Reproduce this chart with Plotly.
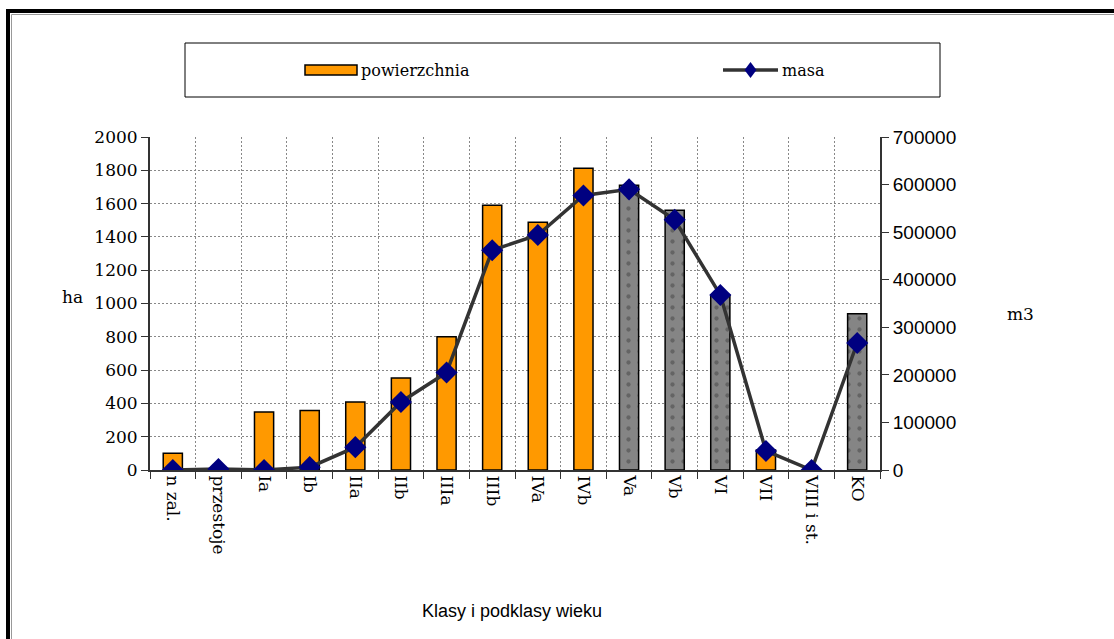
import plotly.graph_objects as go

categories = ["n zal.", "przestoje", "Ia", "Ib", "IIa", "IIb", "IIIa", "IIIb",
              "IVa", "IVb", "Va", "Vb", "VI", "VII", "VIII i st.", "KO"]
powierzchnia = [100, 0, 348, 358, 408, 553, 800, 1590, 1488, 1812,
                1710, 1560, 1050, 120, 0, 938]
masa = [0, 2000, 0, 6000, 48000, 143000, 205000, 462000, 494000, 577000,
        590000, 526000, 368000, 40000, 0, 267000]
dotted = ["Va", "Vb", "VI", "KO"]

W, H = 1114, 639
L, R, T, B = 150, 880, 137, 470


def px(x):
    return (x - L) / (R - L)


def py(y):
    return (B - y) / (B - T)


bar_colors = ["#858585" if c in dotted else "#FF9900" for c in categories]
bar_shapes = ["." if c in dotted else "" for c in categories]

fig = go.Figure()
fig.add_trace(go.Bar(
    x=categories, y=powierzchnia, name="powierzchnia", width=0.42,
    marker=dict(color=bar_colors, line=dict(color="black", width=1.5),
                pattern=dict(shape=bar_shapes, fgcolor="#f0f0f0", size=11, solidity=0.12)),
    yaxis="y", showlegend=False,
))
fig.add_trace(go.Scatter(
    x=categories, y=masa, name="masa", mode="lines+markers",
    line=dict(color="#333333", width=3.5),
    marker=dict(symbol="diamond", size=17, color="#000080"),
    yaxis="y2", showlegend=False,
))

serif = "DejaVu Serif"
sans = "Liberation Sans"

fig.update_layout(
    width=W, height=H,
    margin=dict(l=L, r=W - R, t=T, b=H - B),
    paper_bgcolor="white", plot_bgcolor="white",
    xaxis=dict(type="category", range=[-0.5, len(categories) - 0.5],
               tickson="boundaries", ticks="outside", ticklen=7, tickcolor="#333",
               showgrid=True, gridcolor="#888", griddash="2px,2px", gridwidth=1,
               showline=True, linecolor="#333", linewidth=2,
               tickangle=90, tickfont=dict(family=serif, size=17, color="black")),
    yaxis=dict(range=[0, 2000], dtick=200, ticks="outside", ticklen=7, tickcolor="#333",
               showgrid=True, gridcolor="#888", griddash="2px,2px", gridwidth=1,
               zeroline=False, showline=True, linecolor="#333", linewidth=2,
               tickfont=dict(family=serif, size=17, color="black")),
    yaxis2=dict(range=[0, 700000], dtick=100000, overlaying="y", side="right",
                ticks="outside", ticklen=7, tickcolor="#333", showgrid=False,
                zeroline=False, showline=True, linecolor="#333", linewidth=2,
                tickformat="d",
                tickfont=dict(family=sans, size=19, color="black")),
)

shapes = [
    # outer frame
    dict(type="rect", xref="paper", yref="paper", x0=px(8), x1=px(W + 20),
         y0=py(H + 20), y1=py(11), line=dict(color="black", width=4)),
    dict(type="rect", xref="paper", yref="paper", x0=px(11.5), x1=px(W + 20),
         y0=py(H + 20), y1=py(14.5), line=dict(color="#999", width=1)),
    # legend box
    dict(type="rect", xref="paper", yref="paper", x0=px(185), x1=px(940),
         y0=py(97), y1=py(43), line=dict(color="black", width=1), fillcolor="white"),
    dict(type="rect", xref="paper", yref="paper", x0=px(305), x1=px(357),
         y0=py(75), y1=py(65), line=dict(color="black", width=1.5), fillcolor="#FF9900"),
    dict(type="line", xref="paper", yref="paper", x0=px(723), x1=px(778),
         y0=py(70), y1=py(70), line=dict(color="#333333", width=3.5)),
    dict(type="path", xref="paper", yref="paper",
         path="M {} {} L {} {} L {} {} L {} {} Z".format(
             px(750.5), py(62), px(756.5), py(70), px(750.5), py(78), px(744.5), py(70)),
         fillcolor="#000080", line=dict(color="#000080", width=0)),
]
fig.update_layout(shapes=shapes)

annotations = [
    dict(text="powierzchnia", x=px(359), y=py(70), xanchor="left", yanchor="middle",
         font=dict(family=serif, size=16, color="black")),
    dict(text="masa", x=px(780), y=py(70), xanchor="left", yanchor="middle",
         font=dict(family=serif, size=16, color="black")),
    dict(text="ha", x=px(72), y=py(297), xanchor="center", yanchor="middle",
         font=dict(family=serif, size=17, color="black")),
    dict(text="m3", x=px(1020), y=py(314), xanchor="center", yanchor="middle",
         font=dict(family=serif, size=17, color="black")),
    dict(text="Klasy i podklasy wieku", x=px(512), y=py(611), xanchor="center",
         yanchor="middle", font=dict(family=sans, size=18, color="black")),
]
for a in annotations:
    a.update(xref="paper", yref="paper", showarrow=False)
fig.update_layout(annotations=annotations)

fig.write_html("out.html", config={"displayModeBar": False},
               post_script="document.body.style.margin='0px';document.body.style.padding='0px';")
